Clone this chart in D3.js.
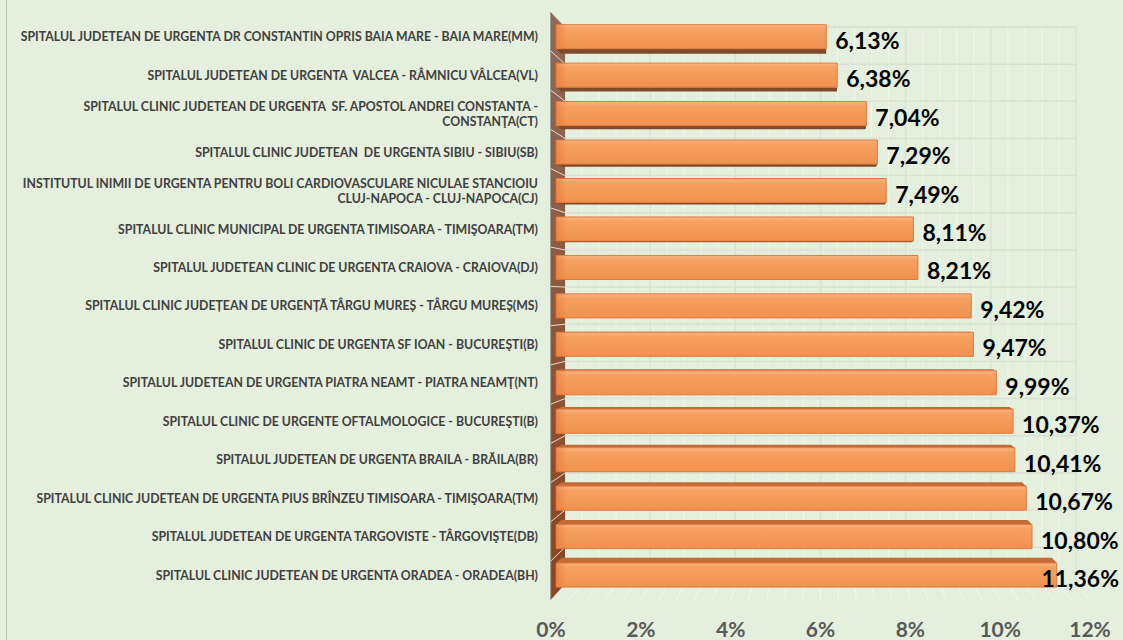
<!DOCTYPE html>
<html>
<head>
<meta charset="utf-8">
<script src="https://cdn.jsdelivr.net/npm/d3@7"></script>
<style>
  html, body { margin: 0; padding: 0; background: #e5efdd; }
  svg { display: block; }
  text { white-space: pre; }
</style>
</head>
<body>
<script>
const svgWidth = 1123
const svgHeight = 640

// hospitals, top to bottom ("|" splits a label on two lines)
const categories = [
  "SPITALUL JUDETEAN DE URGENTA DR CONSTANTIN OPRIS BAIA MARE - BAIA MARE(MM)",
  "SPITALUL JUDETEAN DE URGENTA  VALCEA - RÂMNICU VÂLCEA(VL)",
  "SPITALUL CLINIC JUDETEAN DE URGENTA  SF. APOSTOL ANDREI CONSTANTA -|CONSTANŢA(CT)",
  "SPITALUL CLINIC JUDETEAN  DE URGENTA SIBIU - SIBIU(SB)",
  "INSTITUTUL INIMII DE URGENTA PENTRU BOLI CARDIOVASCULARE NICULAE STANCIOIU|CLUJ-NAPOCA - CLUJ-NAPOCA(CJ)",
  "SPITALUL CLINIC MUNICIPAL DE URGENTA TIMISOARA - TIMIŞOARA(TM)",
  "SPITALUL JUDETEAN CLINIC DE URGENTA CRAIOVA - CRAIOVA(DJ)",
  "SPITALUL CLINIC JUDEȚEAN DE URGENȚĂ TÂRGU MUREȘ - TÂRGU MUREȘ(MS)",
  "SPITALUL CLINIC DE URGENTA SF IOAN - BUCUREŞTI(B)",
  "SPITALUL JUDETEAN DE URGENTA PIATRA NEAMT - PIATRA NEAMŢ(NT)",
  "SPITALUL CLINIC DE URGENTE OFTALMOLOGICE - BUCUREŞTI(B)",
  "SPITALUL JUDETEAN DE URGENTA BRAILA - BRĂILA(BR)",
  "SPITALUL CLINIC JUDETEAN DE URGENTA PIUS BRÎNZEU TIMISOARA - TIMIŞOARA(TM)",
  "SPITALUL JUDETEAN DE URGENTA TARGOVISTE - TÂRGOVIŞTE(DB)",
  "SPITALUL CLINIC JUDETEAN DE URGENTA ORADEA - ORADEA(BH)"
]

const values = [6.13, 6.38, 7.04, 7.29, 7.49, 8.11, 8.21, 9.42, 9.47, 9.99, 10.37, 10.41, 10.67, 10.80, 11.36]

const tickValues = [0, 2, 4, 6, 8, 10, 12]
const minorStep = 0.4

const data = categories.map((c, i) => ({ name: c, value: values[i] }))

// simple perspective: everything shrinks towards a vanishing point with depth
const vp = [821, 300]
const sWall = 0.948   // back wall
const sFront = 0.981  // bar front face
const sBack = 0.961   // bar back face
const P = (X, Y, s) => [vp[0] + (X - vp[0]) * s, vp[1] + (Y - vp[1]) * s]
const poly = pts => pts.map(p => p.join(",")).join(" ")

const x = d3.scaleLinear().domain([0, 12]).range([551, 1090])
const y = d3.scaleBand()
  .domain(categories)
  .range([12, 600])
  .paddingInner(0.375)
  .paddingOuter(0.1875)

const fmt = v => d3.format(".2f")(v).replace(".", ",") + "%"

const svg = d3.select("body").append("svg")
  .attr("width", svgWidth)
  .attr("height", svgHeight)

const defs = svg.append("defs")
const frontGrad = defs.append("linearGradient")
  .attr("id", "barFront").attr("x1", 0).attr("y1", 0).attr("x2", 0).attr("y2", 1)
frontGrad.append("stop").attr("offset", "0%").attr("stop-color", "#f8b683")
frontGrad.append("stop").attr("offset", "18%").attr("stop-color", "#f6a162")
frontGrad.append("stop").attr("offset", "100%").attr("stop-color", "#f0914f")

const leftGrad = defs.append("linearGradient")
  .attr("id", "barLeft").attr("x1", 0).attr("y1", 0).attr("x2", 1).attr("y2", 0)
leftGrad.append("stop").attr("offset", "0%").attr("stop-color", "#e5763a").attr("stop-opacity", 0.55)
leftGrad.append("stop").attr("offset", "100%").attr("stop-color", "#e5763a").attr("stop-opacity", 0)

const wallGrad = defs.append("linearGradient")
  .attr("id", "wall").attr("x1", 0).attr("y1", 0).attr("x2", 0).attr("y2", 1)
wallGrad.append("stop").attr("offset", "0%").attr("stop-color", "#8f6a58")
wallGrad.append("stop").attr("offset", "100%").attr("stop-color", "#8a4520")

// chart border on the left
svg.append("line")
  .attr("x1", 6.5).attr("x2", 6.5).attr("y1", 0).attr("y2", svgHeight)
  .attr("stroke", "#bfbfbf")

const [bx0, by0] = P(x(0), y.range()[0], sWall)
const [bx1, by1] = P(x(12), y.range()[1], sWall)

// back wall grid
const back = svg.append("g").attr("class", "back-wall")
back.selectAll("line.minor")
  .data(d3.range(0, 12 + 1e-9, minorStep))
  .join("line")
  .attr("class", "minor")
  .attr("x1", d => P(x(d), 0, sWall)[0])
  .attr("x2", d => P(x(d), 0, sWall)[0])
  .attr("y1", by0).attr("y2", by1)
  .attr("stroke", "#f2f7ee").attr("stroke-width", 1)

back.selectAll("line.major")
  .data(tickValues)
  .join("line")
  .attr("class", "major")
  .attr("x1", d => P(x(d), 0, sWall)[0])
  .attr("x2", d => P(x(d), 0, sWall)[0])
  .attr("y1", by0).attr("y2", by1)
  .attr("stroke", "#d9e1d4").attr("stroke-width", 1.5)

const boundaries = d3.range(categories.length + 1).map(i => y.range()[0] + i * y.step())
back.selectAll("line.hgrid")
  .data(boundaries)
  .join("line")
  .attr("class", "hgrid")
  .attr("x1", bx0).attr("x2", bx1)
  .attr("y1", d => P(0, d, sWall)[1])
  .attr("y2", d => P(0, d, sWall)[1])
  .attr("stroke", "#d9e1d4").attr("stroke-width", 1.5)

// floor lines
svg.append("g").selectAll("line")
  .data(d3.range(0, 12 + 1e-9, minorStep))
  .join("line")
  .attr("x1", d => x(d)).attr("y1", 600)
  .attr("x2", d => P(x(d), 600, sWall)[0])
  .attr("y2", d => P(x(d), 600, sWall)[1])
  .attr("stroke", "#f4f8f1").attr("stroke-width", 1)

// side wall
const wallPts = [[x(0), 12], P(x(0), 12, sWall), P(x(0), 600, sWall), [x(0), 600]]
svg.append("polygon")
  .attr("points", poly(wallPts))
  .attr("fill", "url(#wall)")
svg.append("line")
  .attr("x1", x(0)).attr("x2", x(0)).attr("y1", 12).attr("y2", 600)
  .attr("stroke", "#6b6b6b").attr("stroke-width", 1.2)
svg.append("g").selectAll("line")
  .data(boundaries)
  .join("line")
  .attr("x1", x(0)).attr("y1", d => d)
  .attr("x2", d => P(x(0), d, sWall)[0])
  .attr("y2", d => P(x(0), d, sWall)[1])
  .attr("stroke", "#e8d8cf").attr("stroke-width", 1)

// bars
const barG = svg.append("g").attr("class", "bars")
  .selectAll("g")
  .data(data)
  .join("g")

barG.each(function(d) {
  const g = d3.select(this)
  const X0 = x(0), X1 = x(d.value)
  const Y0 = y(d.name), Y1 = y(d.name) + y.bandwidth()
  if (Y1 < vp[1]) {
    g.append("polygon")
      .attr("points", poly([P(X0, Y1, sFront), P(X1, Y1, sFront), P(X1, Y1, sBack), P(X0, Y1, sBack)]))
      .attr("fill", "#7d4a2b")
  }
  if (Y0 > vp[1]) {
    g.append("polygon")
      .attr("points", poly([P(X0, Y0, sFront), P(X1, Y0, sFront), P(X1, Y0, sBack), P(X0, Y0, sBack)]))
      .attr("fill", "#c46b35")
  }
  const front = [P(X0, Y0, sFront), P(X1, Y0, sFront), P(X1, Y1, sFront), P(X0, Y1, sFront)]
  g.append("polygon")
    .attr("points", poly(front))
    .attr("fill", "url(#barFront)")
    .attr("stroke", "#e2793a").attr("stroke-width", 1)
  g.append("rect")
    .attr("x", front[0][0]).attr("y", front[0][1])
    .attr("width", 11).attr("height", front[2][1] - front[0][1])
    .attr("fill", "url(#barLeft)")
})

// value labels, pulled back inside the picture when they would run off the edge
const valueLabels = svg.append("g").selectAll("text")
  .data(data)
  .join("text")
  .attr("y", d => P(0, y(d.name) + y.bandwidth() / 2, sFront)[1] + 3)
  .attr("dominant-baseline", "central")
  .attr("font-family", "Lato, 'Open Sans', sans-serif")
  .attr("font-weight", "bold")
  .attr("font-size", "23px")
  .attr("fill", "#000000")
  .text(d => fmt(d.value))

valueLabels.attr("x", function(d) {
  const w = this.getComputedTextLength()
  return Math.min(P(x(d.value), 0, sFront)[0] + 9, svgWidth - 4 - w)
})

// category labels, right aligned left of the wall
const labelG = svg.append("g").attr("class", "cat-labels")
const labels = labelG.selectAll("g")
  .data(data)
  .join("g")

labels.each(function(d) {
  const lines = d.name.split("|")
  const cy = P(0, y(d.name) + y.bandwidth() / 2, sFront)[1]
  const t = d3.select(this).append("text")
    .attr("text-anchor", "end")
    .attr("font-family", "Lato, 'Open Sans', sans-serif")
    .attr("font-weight", "bold")
    .attr("font-size", "12.5px")
    .attr("fill", "#404040")
  lines.forEach((line, i) => {
    t.append("tspan")
      .attr("x", 0)
      .attr("y", cy + (i - (lines.length - 1) / 2) * 15)
      .attr("dominant-baseline", "central")
      .text(line)
  })
})

// squeeze labels to the width of the widest one in the picture
const firstLen = labelG.select("text").node().getComputedTextLength()
const k = 518 / firstLen
labels.attr("transform", `translate(538,0) scale(${k},1)`)

// x axis tick labels
svg.append("g").selectAll("text")
  .data(tickValues)
  .join("text")
  .attr("x", d => x(d))
  .attr("y", 637)
  .attr("text-anchor", "middle")
  .attr("font-family", "Lato, 'Open Sans', sans-serif")
  .attr("font-weight", "bold")
  .attr("font-size", "21px")
  .attr("fill", "#595959")
  .text(d => d + "%")
</script>
</body>
</html>
